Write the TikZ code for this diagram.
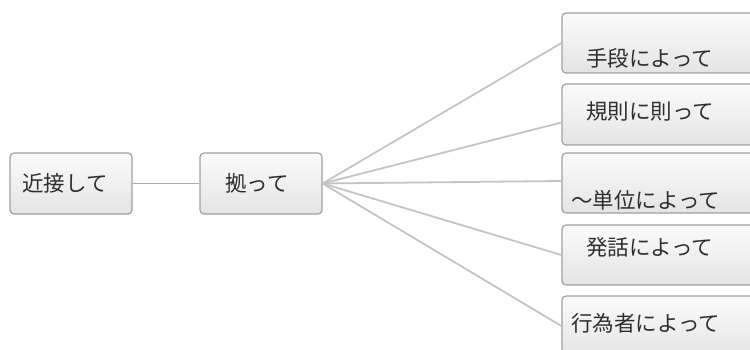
\documentclass[tikz,border=0pt]{standalone}
\usepackage{fontspec}
\newfontfamily\jp{Noto Sans CJK JP}
\definecolor{boxline}{HTML}{A0A0A0}
\definecolor{boxtop}{HTML}{FBFBFB}
\definecolor{boxbot}{HTML}{E4E4E4}
\definecolor{conn}{HTML}{C4C4C4}
\definecolor{txt}{HTML}{2E2E2E}
\begin{document}
\begin{tikzpicture}[x=1pt,y=-1pt,
  box/.style={draw=boxline, line width=1.2pt, rounded corners=4pt,
    top color=boxtop, bottom color=boxbot, inner sep=0pt},
  lbl/.style={font=\jp\fontsize{21.5}{26}\selectfont, text=txt, inner sep=0pt, anchor=west},
  conn/.style={draw=conn, line width=1.8pt}]
\useasboundingbox (0,0) rectangle (750,350);
\clip (0,0) rectangle (750,350);
% left nodes
\node[box, minimum width=122pt, minimum height=61pt] (a) at (71,183.5) {};
\node[lbl] (ta) at (22,183.5) {近接して};
\node[box, minimum width=122pt, minimum height=61pt] (p) at (261,183.5) {};
\node[lbl] (tp) at (225,183.5) {拠って};
% right boxes (clipped at right edge)
\node[box, minimum width=220pt, minimum height=60pt] (b1) at (672,43) {};
\node[box, minimum width=220pt, minimum height=61pt] (b2) at (672,114.5) {};
\node[box, minimum width=220pt, minimum height=60pt] (b3) at (672,183) {};
\node[box, minimum width=220pt, minimum height=60pt] (b4) at (672,255) {};
\node[box, minimum width=220pt, minimum height=60pt] (b5) at (672,326) {};
\node[lbl] (t1) at (586,58) {手段によって};
\node[lbl] (t2) at (586,111) {規則に則って};
\node[lbl] (t3) at (571,200) {～単位によって};
\node[lbl] (t4) at (586,247) {発話によって};
\node[lbl] (t5) at (571,323) {行為者によって};
% connectors
\draw[conn, draw=boxline!90] (a.east) -- (p.west);
\draw[conn] (p.east) -- (b1.west);
\draw[conn] (p.east) -- ([yshift=-8pt]b2.west);
\draw[conn] (p.east) -- ([yshift=2pt]b3.west);
\draw[conn] (p.east) -- (b4.west);
\draw[conn] (p.east) -- (b5.west);
\end{tikzpicture}
\end{document}
